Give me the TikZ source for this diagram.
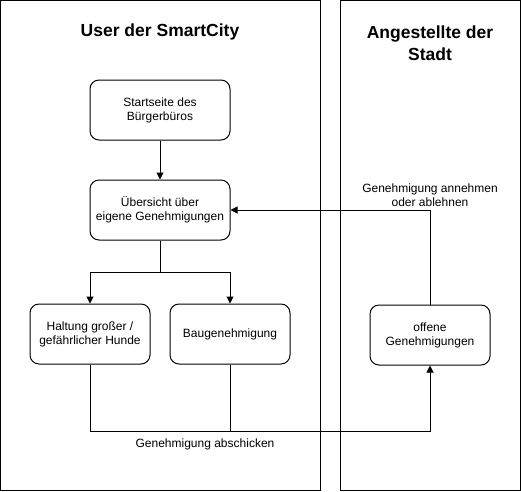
\documentclass[tikz,border=0pt]{standalone}
\usepackage{fontspec}
\setmainfont{Liberation Sans}
\usetikzlibrary{arrows.meta}
\tikzset{
  lane/.style={draw,line width=1pt},
  box/.style={draw,line width=1pt,rounded corners=9pt,minimum width=140pt,minimum height=60pt,
    align=center,font=\fontsize{12}{14}\selectfont},
  smallbox/.style={box,minimum width=120pt},
  title/.style={align=center,font=\fontsize{17.5}{22}\selectfont\bfseries},
  label/.style={align=center,font=\fontsize{12}{14}\selectfont},
  flow/.style={line width=1pt,-{Triangle[length=7pt,width=7pt]}}
}
\begin{document}
\begin{tikzpicture}[x=1pt,y=-1pt]
  \useasboundingbox (0,0) rectangle (521,491);
  % swimlanes
  \draw[lane] (0.5,0.5) rectangle (320.5,490);
  \draw[lane] (340.5,0.5) rectangle (520,490);
  \node[title] (titleuser) at (160,32) {User der SmartCity};
  \node[title] (titlestaff) at (430,43) {Angestellte der\\Stadt};

  % boxes
  \node[box] (start) at (160,110) {Startseite des\\Bürgerbüros};
  \node[box] (uebersicht) at (160,210) {Übersicht über\\eigene Genehmigungen};
  \node[smallbox] (haltung) at (90,334) {Haltung großer /\\gefährlicher Hunde};
  \node[smallbox] (bau) at (230,334) {Baugenehmigung};
  \node[smallbox] (offen) at (430,335) {offene\\Genehmigungen};

  \coordinate (split) at (160,272);
  \coordinate (merge) at (430,431);

  % connectors
  \draw[flow] (start) -- (uebersicht);
  \draw[line width=1pt] (uebersicht) -- (split);
  \draw[flow] (split) -| (haltung);
  \draw[flow] (split) -| (bau);
  \draw[flow] (haltung) |- (merge) -- (offen);
  \draw[line width=1pt] (bau) -- (bau |- merge);
  \draw[flow] (offen) |- (uebersicht);

  \node[label] (annehmen) at (430,195) {Genehmigung annehmen\\oder ablehnen};
  \node[label] (abschicken) at (205,444) {Genehmigung abschicken};
\end{tikzpicture}
\end{document}
